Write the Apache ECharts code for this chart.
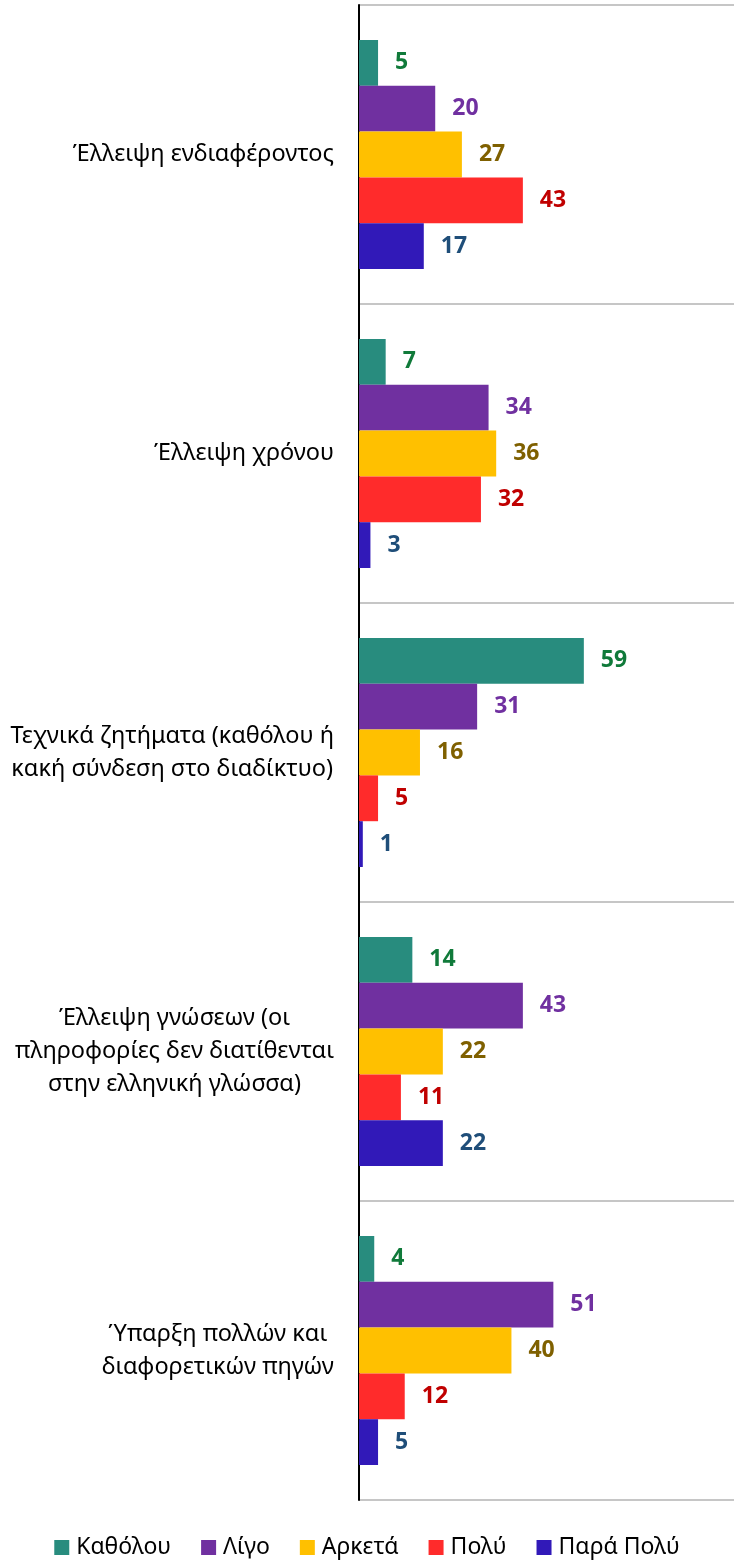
<!DOCTYPE html>
<html>
<head>
<meta charset="utf-8">
<script src="https://cdn.jsdelivr.net/npm/echarts@6/dist/echarts.min.js"></script>
<style>
  html, body { margin: 0; padding: 0; background: #fff; }
  #main { width: 734px; height: 1562px; }
</style>
</head>
<body>
<div id="main"></div>
<script>
// κατηγορίες (πάνω προς κάτω)
var categories = [
  'Έλλειψη ενδιαφέροντος',
  'Έλλειψη χρόνου',
  'Τεχνικά ζητήματα (καθόλου ή\nκακή σύνδεση στο διαδίκτυο)',
  'Έλλειψη γνώσεων (οι\nπληροφορίες δεν διατίθενται\nστην ελληνική γλώσσα)',
  'Ύπαρξη πολλών και\nδιαφορετικών πηγών'
];
var seriesNames = ['Καθόλου', 'Λίγο', 'Αρκετά', 'Πολύ', 'Παρά Πολύ'];
var katholou = [5, 7, 59, 14, 4];
var ligo = [20, 34, 31, 43, 51];
var arketa = [27, 36, 16, 22, 40];
var poly = [43, 32, 5, 11, 12];
var paraPoly = [17, 3, 1, 22, 5];

var values = [katholou, ligo, arketa, poly, paraPoly];
var barColors = ['#288c7e', '#7030a0', '#ffc000', '#ff2b2b', '#3119b8'];
var labelColors = ['#107a3a', '#7030a0', '#7f6000', '#c00000', '#1f4e79'];

var myChart = echarts.init(document.getElementById('main'));

var series = seriesNames.map(function (name, i) {
  return {
    name: name,
    type: 'bar',
    data: values[i],
    barGap: 0,
    barCategoryGap: '23.4%',
    itemStyle: { color: barColors[i] },
    label: {
      show: true,
      position: 'right',
      distance: 17,
      color: labelColors[i],
      fontFamily: 'Noto Sans',
      fontWeight: 'bold',
      fontSize: 23
    }
  };
});

myChart.setOption({
  animation: false,
  legend: {
    data: seriesNames,
    top: 1531,
    left: 'center',
    icon: 'rect',
    itemWidth: 15,
    itemHeight: 15,
    itemGap: 30,
    textStyle: { fontFamily: 'Noto Sans', fontSize: 23, color: '#000', padding: [0, 0, 0, 2] }
  },
  grid: { left: 359, top: 5, right: 0, height: 1495 },
  xAxis: {
    type: 'value',
    min: 0,
    max: 98.4,
    axisLine: { show: false },
    axisTick: { show: false },
    axisLabel: { show: false },
    splitLine: { show: false }
  },
  yAxis: {
    type: 'category',
    inverse: true,
    data: categories,
    axisLine: { show: true, lineStyle: { color: '#000', width: 2 } },
    axisTick: { show: false },
    splitLine: { show: true, lineStyle: { color: '#b3b3b3', width: 1.5 } },
    axisLabel: {
      margin: 25,
      color: '#000',
      fontFamily: 'Noto Sans',
      fontSize: 23.5,
      lineHeight: 33,
      formatter: function (v) {
        return v.split('\n').map(function (l) { return '{c|' + l + '}'; }).join('\n');
      },
      rich: {
        c: { align: 'center', fontFamily: 'Noto Sans', fontSize: 23.5, lineHeight: 33, color: '#000' }
      }
    }
  },
  series: series
});
</script>
</body>
</html>
